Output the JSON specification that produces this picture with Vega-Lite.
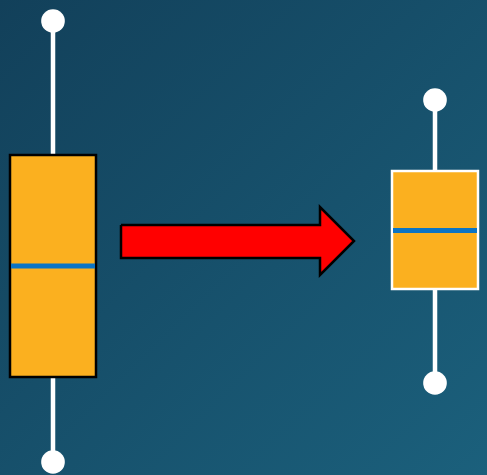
{
  "$schema": "https://vega.github.io/schema/vega-lite/v6.json",
  "width": 487,
  "height": 475,
  "padding": 0,
  "autosize": {"type": "none"},
  "background": "#16506a",
  "config": {"view": {"stroke": null}},
  "encoding": {},
  "layer": [
    {
      "data": {"values": [{"x0": 0, "x1": 487, "y0": 0, "y1": 475}]},
      "mark": {"type": "rect", "color": {"gradient": "linear", "x1": 0, "y1": 0, "x2": 1, "y2": 1, "stops": [{"offset": 0, "color": "#12405a"}, {"offset": 1, "color": "#1b607c"}]}},
      "encoding": {
        "x": {"field": "x0", "type": "quantitative", "scale": {"domain": [0, 487], "nice": false, "zero": false}, "axis": null},
        "x2": {"field": "x1"},
        "y": {"field": "y0", "type": "quantitative", "scale": {"domain": [0, 475], "reverse": true, "nice": false, "zero": false}, "axis": null},
        "y2": {"field": "y1"}
      }
    },
    {
      "data": {"values": [
        {"x": 53, "ya": 21, "yb": 462},
        {"x": 435, "ya": 100, "yb": 383}
      ]},
      "mark": {"type": "rule", "color": "white", "strokeWidth": 4.5},
      "encoding": {
        "x": {"field": "x", "type": "quantitative"},
        "y": {"field": "ya", "type": "quantitative"},
        "y2": {"field": "yb"}
      }
    },
    {
      "data": {"values": [{"xa": 10, "xb": 96, "ya": 155, "yb": 377}]},
      "mark": {"type": "rect", "fill": "#fbb01f", "stroke": "black", "strokeWidth": 2.5},
      "encoding": {
        "x": {"field": "xa", "type": "quantitative"},
        "x2": {"field": "xb"},
        "y": {"field": "ya", "type": "quantitative"},
        "y2": {"field": "yb"}
      }
    },
    {
      "data": {"values": [{"xa": 392, "xb": 478, "ya": 171, "yb": 289}]},
      "mark": {"type": "rect", "fill": "#fbb01f", "stroke": "white", "strokeWidth": 2.5},
      "encoding": {
        "x": {"field": "xa", "type": "quantitative"},
        "x2": {"field": "xb"},
        "y": {"field": "ya", "type": "quantitative"},
        "y2": {"field": "yb"}
      }
    },
    {
      "data": {"values": [
        {"xa": 11, "xb": 95, "y": 266},
        {"xa": 393, "xb": 477, "y": 230.5}
      ]},
      "mark": {"type": "rule", "color": "#0b74c4", "strokeWidth": 5},
      "encoding": {
        "x": {"field": "xa", "type": "quantitative"},
        "x2": {"field": "xb"},
        "y": {"field": "y", "type": "quantitative"}
      }
    },
    {
      "data": {"values": [
        {"x": 53, "y": 21},
        {"x": 53, "y": 462},
        {"x": 435, "y": 100},
        {"x": 435, "y": 383}
      ]},
      "mark": {"type": "circle", "color": "white", "opacity": 1, "size": 560},
      "encoding": {
        "x": {"field": "x", "type": "quantitative"},
        "y": {"field": "y", "type": "quantitative"}
      }
    },
    {
      "data": {"values": [
        {"i": 0, "x": 121, "y": 225},
        {"i": 1, "x": 320, "y": 225},
        {"i": 2, "x": 320, "y": 207},
        {"i": 3, "x": 354, "y": 241},
        {"i": 4, "x": 320, "y": 275},
        {"i": 5, "x": 320, "y": 258},
        {"i": 6, "x": 121, "y": 258},
        {"i": 7, "x": 121, "y": 225}
      ]},
      "mark": {"type": "line", "fill": "#ff0000", "stroke": "black", "strokeWidth": 2.5, "strokeJoin": "miter", "interpolate": "linear"},
      "encoding": {
        "x": {"field": "x", "type": "quantitative"},
        "y": {"field": "y", "type": "quantitative"},
        "order": {"field": "i", "type": "quantitative"}
      }
    }
  ]
}
